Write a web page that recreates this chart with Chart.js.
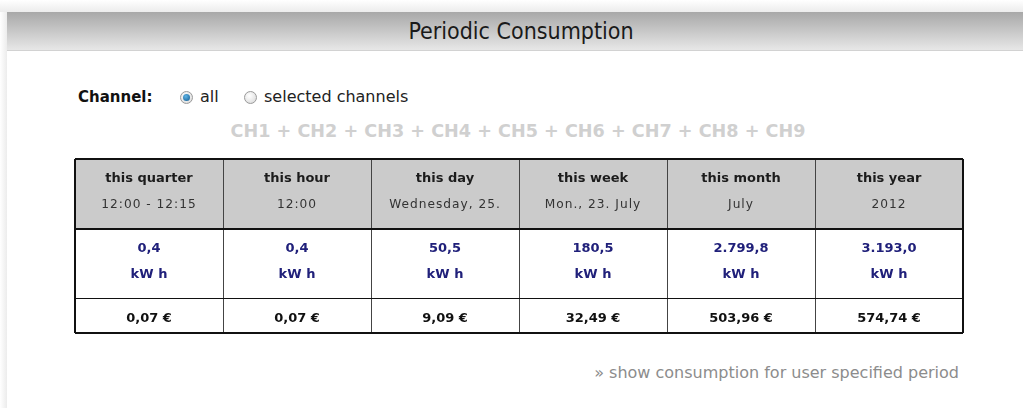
<!DOCTYPE html>
<html>
<head>
<meta charset="utf-8">
<script src="https://cdn.jsdelivr.net/npm/chart.js@4.4.1/dist/chart.umd.min.js"></script>
<style>
  html, body { margin: 0; padding: 0; }
  body {
    width: 1023px; height: 408px; overflow: hidden; position: relative;
    background: #fff; font-family: "DejaVu Sans", Verdana, sans-serif;
  }
  .shadowTop { position: absolute; left: 0; top: 0; width: 1023px; height: 12px;
    background: linear-gradient(#ffffff, #ececec); }
  .shadowLeft { position: absolute; left: 0; top: 12px; width: 7px; height: 396px;
    background: linear-gradient(to right, #ffffff, #ececec); }
  .baslik { position: absolute; left: 7px; top: 12px; width: 1016px; height: 38px;
    background: linear-gradient(#a8a8a8, #e7e7e7); border-bottom: 1px solid #d2d2d2; }
  .baslikYazi { position: absolute; left: 0; top: 12px; width: 1042px; height: 38px;
    line-height: 38px; text-align: center; color: #1a1a1a;
    font-family: "Liberation Sans Narrow", "DejaVu Sans Condensed", sans-serif; font-size: 23px; }
  .yazi { position: absolute; line-height: 20px; white-space: nowrap; }
  .radio { position: absolute; width: 11px; height: 11px; border-radius: 50%;
    border: 1px solid #9a9a9a; background: radial-gradient(circle at 40% 35%, #ffffff, #d6d6d6); }
  .radio.secili::after { content: ""; position: absolute; left: 2px; top: 2px; width: 7px; height: 7px;
    border-radius: 50%; background: radial-gradient(circle at 40% 35%, #5fb4e6, #10598e); }
  #tabloKutu { position: absolute; left: 74px; top: 158px; width: 890px; height: 176px; }
</style>
</head>
<body>
<div class="shadowTop"></div>
<div class="shadowLeft"></div>
<div class="baslik"></div>
<div class="baslikYazi">Periodic Consumption</div>

<div class="yazi" style="left:78px; top:87px; font-weight:bold; font-size:15px; color:#111;">Channel:</div>
<div class="radio secili" style="left:180px; top:91px;"></div>
<div class="yazi" style="left:200px; top:87px; font-size:16px; color:#222;">all</div>
<div class="radio" style="left:244px; top:91px;"></div>
<div class="yazi" style="left:264px; top:87px; font-size:16px; color:#222;">selected channels</div>

<div class="yazi" id="kanallar" style="left:0; top:121px; width:1036px; text-align:center; font-weight:bold; font-size:17.6px; color:#d0d0d0;"></div>

<div id="tabloKutu"><canvas id="tablo"></canvas></div>

<div class="yazi" style="right:64px; top:363px; font-size:16px; color:#8c8c8c;">» show consumption for user specified period</div>

<script>
// Kanallar
const kanallar = ['CH1', 'CH2', 'CH3', 'CH4', 'CH5', 'CH6', 'CH7', 'CH8', 'CH9'];

// Tablo verileri
const donemler = ['this quarter', 'this hour', 'this day', 'this week', 'this month', 'this year'];
const donemAlt = ['12:00 - 12:15', '12:00', 'Wednesday, 25.', 'Mon., 23. July', 'July', '2012'];
const tuketim = ['0,4', '0,4', '50,5', '180,5', '2.799,8', '3.193,0'];
const birim = 'kW h';
const maliyet = ['0,07 €', '0,07 €', '9,09 €', '32,49 €', '503,96 €', '574,74 €'];

// satir sinirlari (piksel birimi)
const satirSinir = [0, 70, 139, 174];

document.getElementById('kanallar').innerText = kanallar.join(' + ');

/* =========================
   TABLO YAZILARI
========================= */
const yaziPlugin = {
  id: 'yazilar',
  afterDraw(chart) {
    const ctx = chart.ctx;
    const x = chart.scales.x;
    const y = chart.scales.y;
    ctx.save();
    ctx.textAlign = 'center';
    ctx.textBaseline = 'middle';

    donemler.forEach((d, i) => {
      const px = x.getPixelForValue(i);

      ctx.letterSpacing = '0px';
      ctx.fillStyle = '#1c1c1c';
      ctx.font = 'bold 13px "DejaVu Sans"';
      ctx.fillText(d, px, y.getPixelForValue(20));

      ctx.letterSpacing = '1px';
      ctx.fillStyle = '#333';
      ctx.font = '12.2px "DejaVu Sans"';
      ctx.fillText(donemAlt[i], px, y.getPixelForValue(46));

      ctx.letterSpacing = '0px';
      ctx.fillStyle = '#20207a';
      ctx.font = 'bold 13px "DejaVu Sans"';
      ctx.fillText(tuketim[i], px, y.getPixelForValue(90));
      ctx.fillText(birim, px, y.getPixelForValue(116));

      ctx.fillStyle = '#111';
      ctx.fillText(maliyet[i], px, y.getPixelForValue(160));
    });
    ctx.restore();
  }
};

new Chart(document.getElementById('tablo'), {
  type: 'bar',
  data: {
    labels: donemler,
    datasets: [{
      data: donemler.map(() => [satirSinir[0], satirSinir[1]]),
      backgroundColor: '#cbcbcb',
      borderWidth: 0,
      barPercentage: 1,
      categoryPercentage: 1
    }]
  },
  options: {
    responsive: true,
    maintainAspectRatio: false,
    animation: false,
    layout: { padding: 1 },
    plugins: { legend: { display: false }, tooltip: { enabled: false } },
    scales: {
      x: {
        ticks: { display: false },
        border: { display: false },
        grid: {
          z: 1,
          offset: true,
          drawTicks: false,
          color: ctx => (ctx.index === 0 || ctx.index === undefined || ctx.index >= donemler.length) ? '#111' : '#444',
          lineWidth: ctx => (ctx.index === 0 || ctx.index === undefined || ctx.index >= donemler.length) ? 2 : 1
        }
      },
      y: {
        reverse: true,
        min: satirSinir[0],
        max: satirSinir[satirSinir.length - 1],
        afterBuildTicks: scale => { scale.ticks = satirSinir.map(v => ({ value: v })); },
        ticks: { display: false },
        border: { display: false },
        grid: {
          z: 1,
          drawTicks: false,
          color: '#111',
          lineWidth: ctx => (ctx.tick && ctx.tick.value === satirSinir[2]) ? 1 : 2
        }
      }
    }
  },
  plugins: [yaziPlugin]
});
</script>
</body>
</html>
